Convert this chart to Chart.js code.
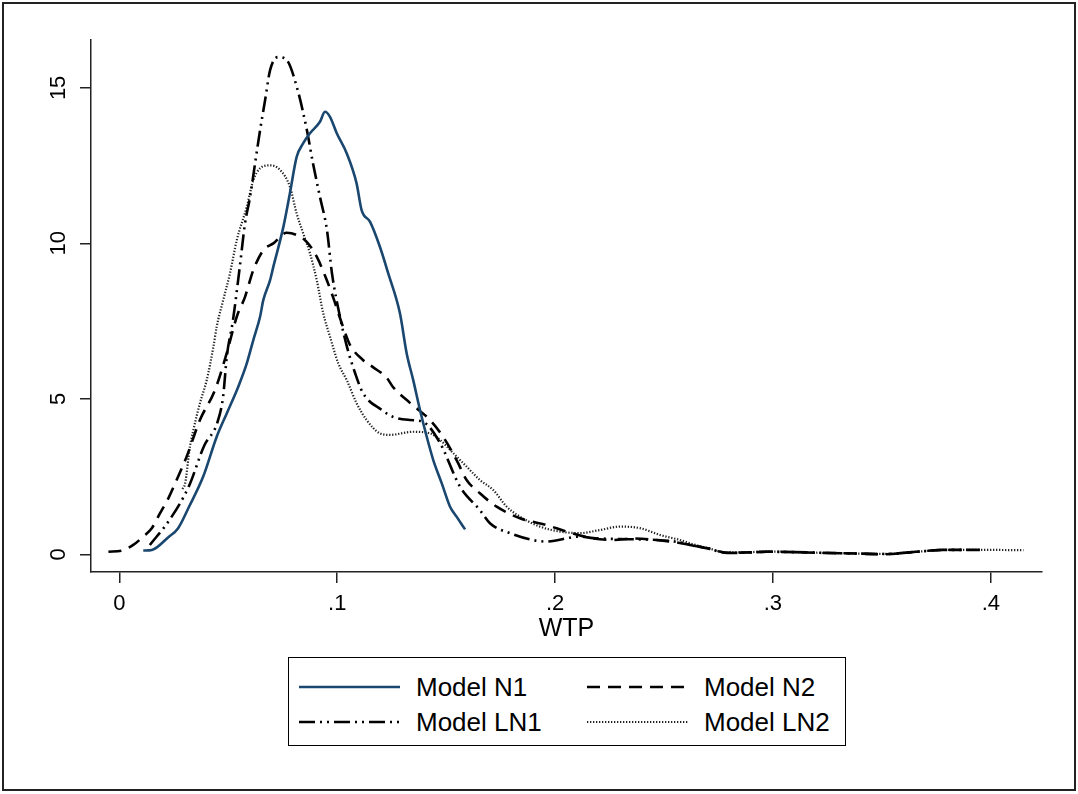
<!DOCTYPE html>
<html>
<head>
<meta charset="utf-8">
<script src="https://cdn.jsdelivr.net/npm/chart.js@4.4.1/dist/chart.umd.min.js"></script>
<style>
  html, body { margin: 0; padding: 0; background: #fff; }
  body { width: 1078px; height: 794px; position: relative; overflow: hidden; font-family: "Liberation Sans", Arial, sans-serif; }
  #frame { position: absolute; left: 2px; top: 2px; width: 1074px; height: 789px; box-sizing: border-box; border: 2px solid #222; }
  #wrap { position: absolute; left: 0; top: 0; width: 1078px; height: 794px; }
  #legend { position: absolute; left: 288px; top: 657px; width: 558px; height: 89px; box-sizing: border-box; border: 1px solid #000; background: #fff; }
  .item { position: absolute; height: 30px; }
  .item svg { position: absolute; left: 0; top: 0; }
  .item span { position: absolute; top: 0; line-height: 30px; font-size: 26px; color: #000; white-space: nowrap; }
</style>
</head>
<body>
<div id="frame"></div>
<div id="wrap"><canvas id="c" width="1078" height="794"></canvas></div>
<div id="legend"></div>
<script>
// ---- data ----
const xTicks = [0, 0.1, 0.2, 0.3, 0.4];
const yTicks = [0, 5, 10, 15];
const seriesNames = ["Model N1", "Model N2", "Model LN1", "Model LN2"];

const n1X = [0.011, 0.015, 0.0225, 0.027, 0.032, 0.0385, 0.0447, 0.0493, 0.0546, 0.0585, 0.0615, 0.0646, 0.0661, 0.0692, 0.0707, 0.0753, 0.0783, 0.0814, 0.0844, 0.0875, 0.0921, 0.0944, 0.0967, 0.0998, 0.1044, 0.1089, 0.1112, 0.1151, 0.1196, 0.1234, 0.1288, 0.1319, 0.1349, 0.138, 0.1411, 0.1441, 0.148, 0.1518, 0.1548, 0.1587];
const n1Y = [0.12, 0.14, 0.55, 0.84, 1.53, 2.5, 3.78, 4.53, 5.39, 6.14, 6.89, 7.64, 8.18, 8.82, 9.25, 10.53, 11.61, 12.78, 13.22, 13.54, 13.91, 14.23, 14.07, 13.54, 12.89, 11.93, 11.07, 10.69, 9.89, 9.04, 7.75, 6.46, 5.6, 4.64, 3.78, 3.03, 2.28, 1.53, 1.21, 0.8];

const n2X = [-0.005, 0.0011, 0.0064, 0.011, 0.0149, 0.0187, 0.0225, 0.0263, 0.0309, 0.037, 0.0439, 0.0493, 0.0539, 0.0577, 0.0615, 0.0661, 0.0707, 0.0768, 0.0814, 0.086, 0.0906, 0.0952, 0.0981, 0.1027, 0.1059, 0.1118, 0.1164, 0.1228, 0.1256, 0.1334, 0.1426, 0.1487, 0.1548, 0.1594, 0.1655, 0.1732, 0.1839, 0.1961, 0.2053, 0.2175, 0.2267, 0.2359, 0.2466, 0.2558, 0.262, 0.27, 0.279, 0.29, 0.297, 0.31, 0.32, 0.335, 0.351, 0.366, 0.378, 0.388];
const n2Y = [0.08, 0.12, 0.3, 0.57, 0.84, 1.32, 1.8, 2.39, 3.14, 4.32, 5.28, 6.47, 7.64, 8.28, 9.14, 9.78, 10.0, 10.34, 10.27, 10.05, 9.57, 8.82, 8.27, 7.31, 6.73, 6.25, 6.02, 5.67, 5.38, 4.87, 4.32, 3.77, 3.03, 2.39, 1.96, 1.53, 1.16, 0.94, 0.73, 0.51, 0.46, 0.51, 0.46, 0.38, 0.3, 0.19, 0.05, 0.06, 0.08, 0.07, 0.05, 0.03, 0.0, 0.08, 0.14, 0.14];

const ln1X = [0.014, 0.023, 0.032, 0.039, 0.0448, 0.0476, 0.0494, 0.0521, 0.0553, 0.0577, 0.06, 0.0623, 0.0646, 0.0669, 0.0692, 0.0728, 0.0769, 0.0815, 0.0861, 0.0889, 0.0921, 0.0953, 0.0976, 0.1013, 0.1045, 0.1082, 0.1118, 0.1205, 0.1256, 0.1334, 0.1394, 0.1472, 0.1564, 0.1655, 0.1701, 0.1793, 0.1961, 0.2114, 0.2175, 0.2298, 0.2466, 0.2558, 0.262, 0.27, 0.279, 0.29, 0.297, 0.31, 0.32, 0.335, 0.351, 0.366, 0.378, 0.395];
const ln1Y = [0.3, 1.1, 2.2, 3.5, 4.2, 5.05, 6.4, 7.5, 9.25, 10.65, 11.49, 12.57, 13.64, 14.6, 15.57, 15.99, 15.89, 15.02, 13.64, 12.57, 11.49, 10.43, 9.04, 7.63, 6.67, 5.83, 5.19, 4.64, 4.42, 4.32, 4.26, 3.58, 2.17, 1.42, 1.0, 0.68, 0.41, 0.57, 0.52, 0.49, 0.46, 0.4, 0.3, 0.19, 0.04, 0.06, 0.08, 0.07, 0.05, 0.03, 0.01, 0.08, 0.14, 0.14];

const ln2X = [0.029, 0.0302, 0.0324, 0.034, 0.037, 0.0401, 0.0432, 0.0447, 0.0477, 0.0508, 0.0539, 0.0585, 0.0615, 0.0646, 0.0692, 0.0738, 0.0783, 0.0814, 0.0844, 0.0875, 0.0906, 0.0936, 0.0967, 0.1005, 0.1044, 0.1089, 0.1135, 0.1196, 0.1242, 0.1349, 0.1426, 0.1472, 0.1533, 0.1594, 0.1655, 0.1716, 0.1778, 0.1839, 0.1931, 0.2022, 0.2114, 0.2206, 0.2298, 0.239, 0.2482, 0.2573, 0.262, 0.27, 0.279, 0.29, 0.297, 0.31, 0.32, 0.335, 0.351, 0.366, 0.378, 0.39, 0.40, 0.415];
const ln2Y = [2.1, 2.28, 3.46, 4.0, 4.86, 5.6, 6.68, 7.32, 8.18, 9.04, 10.1, 11.18, 12.03, 12.41, 12.51, 12.36, 11.82, 10.96, 10.32, 9.68, 8.82, 7.75, 7.0, 6.14, 5.6, 4.86, 4.32, 3.89, 3.84, 3.94, 3.89, 3.68, 3.25, 2.82, 2.39, 2.07, 1.53, 1.21, 0.89, 0.73, 0.68, 0.78, 0.89, 0.84, 0.62, 0.46, 0.35, 0.2, 0.06, 0.07, 0.09, 0.07, 0.05, 0.03, 0.01, 0.08, 0.14, 0.14, 0.14, 0.13];

// ---- styles ----
const styles = [
  { color: '#1a476f', width: 2.6, dash: [] },
  { color: '#000000', width: 2.6, dash: [13, 8] },
  { color: '#000000', width: 2.6, dash: [16, 5, 2, 5, 2, 5] },
  { color: '#222222', width: 2.2, dash: [1.3, 1.7] }
];

function pts(xs, ys) { return xs.map((x, i) => ({ x: x, y: ys[i] })); }
const dataSets = [pts(n1X, n1Y), pts(n2X, n2Y), pts(ln1X, ln1Y), pts(ln2X, ln2Y)];

const fontFam = '"Liberation Sans", Arial, sans-serif';

new Chart(document.getElementById('c'), {
  type: 'line',
  data: {
    datasets: dataSets.map((d, i) => ({
      label: seriesNames[i],
      data: d,
      borderColor: styles[i].color,
      borderWidth: styles[i].width,
      borderDash: styles[i].dash,
      pointRadius: 0,
      fill: false,
      tension: 0.3,
      cubicInterpolationMode: 'monotone'
    }))
  },
  options: {
    responsive: false,
    animation: false,
    events: [],
    layout: { padding: { top: 40, right: 36, left: 0, bottom: 144 } },
    plugins: { legend: { display: false }, tooltip: { enabled: false }, title: { display: false } },
    scales: {
      x: {
        type: 'linear',
        min: -0.013,
        max: 0.4235,
        afterFit: s => { s.height = 78; },
        afterBuildTicks: s => { s.ticks = xTicks.map(v => ({ value: v })); },
        grid: { display: true, drawOnChartArea: false, drawTicks: true, tickLength: 11, color: '#222', lineWidth: 1.5 },
        border: { display: true, color: '#222', width: 1.5 },
        ticks: {
          padding: 8,
          color: '#000',
          font: { family: fontFam, size: 22 },
          maxRotation: 0, minRotation: 0,
          callback: v => v === 0 ? '0' : String(Math.round(v * 10) / 10).replace(/^0/, '')
        },
        title: { display: true, text: 'WTP', color: '#000', font: { family: fontFam, size: 25 }, padding: { top: 0, bottom: 6 } }
      },
      y: {
        type: 'linear',
        min: -0.57,
        max: 16.54,
        afterFit: s => { s.width = 91; },
        afterBuildTicks: s => { s.ticks = yTicks.map(v => ({ value: v })); },
        grid: { display: true, drawOnChartArea: false, drawTicks: true, tickLength: 11, color: '#222', lineWidth: 1.5 },
        border: { display: true, color: '#222', width: 1.5 },
        ticks: {
          padding: 9,
          color: '#000',
          crossAlign: 'center',
          minRotation: 90, maxRotation: 90,
          font: { family: fontFam, size: 22 },
          callback: v => String(v)
        }
      }
    }
  }
});

// ---- HTML legend (real text) ----
const legendPos = [
  { left: 10, top: 14, textLeft: 127 },
  { left: 298, top: 14, textLeft: 415 },
  { left: 10, top: 49, textLeft: 127 },
  { left: 298, top: 49, textLeft: 415 }
];
const legendEl = document.getElementById('legend');
seriesNames.forEach((name, i) => {
  const p = legendPos[i];
  const st = styles[i];
  const div = document.createElement('div');
  div.className = 'item';
  div.style.left = p.left + 'px';
  div.style.top = p.top + 'px';
  div.style.width = '260px';
  const svgNS = 'http://www.w3.org/2000/svg';
  const svg = document.createElementNS(svgNS, 'svg');
  svg.setAttribute('width', '102');
  svg.setAttribute('height', '30');
  const ln = document.createElementNS(svgNS, 'line');
  ln.setAttribute('x1', '0'); ln.setAttribute('x2', '101');
  ln.setAttribute('y1', '15'); ln.setAttribute('y2', '15');
  ln.setAttribute('stroke', st.color);
  ln.setAttribute('stroke-width', String(st.width));
  if (st.dash.length) ln.setAttribute('stroke-dasharray', st.dash.join(' '));
  svg.appendChild(ln);
  div.appendChild(svg);
  const sp = document.createElement('span');
  sp.textContent = name;
  sp.style.left = (p.textLeft - p.left) + 'px';
  div.appendChild(sp);
  legendEl.appendChild(div);
});
</script>
</body>
</html>
